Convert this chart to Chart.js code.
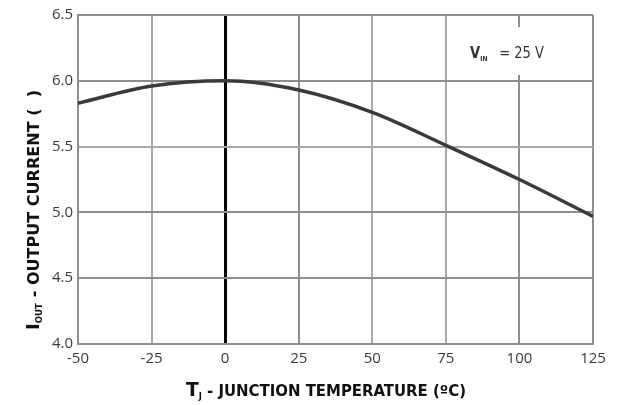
<!DOCTYPE html>
<html>
<head>
<meta charset="utf-8">
<script src="https://cdn.jsdelivr.net/npm/chart.js@4"></script>
<style>
  html, body { margin: 0; padding: 0; background: #fff; }
  #wrap { width: 617px; height: 405px; }
</style>
</head>
<body>
<div id="wrap"><canvas id="chart" width="617" height="405"></canvas></div>
<script>
// temperature (°C) and output current
const temps = [-50, -25, 0, 25, 50, 75, 100, 125];
const current = [5.83, 5.96, 6.0, 5.93, 5.76, 5.51, 5.25, 4.97];
const xTicks = [-50, -25, 0, 25, 50, 75, 100, 125];
const yTicks = [4.0, 4.5, 5.0, 5.5, 6.0, 6.5];

const tickFont = { family: "'Open Sans', sans-serif", size: 15 };
const FAM = "'DejaVu Sans Condensed', sans-serif";

// draw runs of text (with subscripts) squeezed to a given width
function drawRuns(c, runs, x, y, width) {
  let total = 0;
  runs.forEach((r) => {
    c.font = r.font;
    total += c.measureText(r.text).width + (r.gap || 0);
  });
  const k = width / total;
  c.save();
  c.translate(x, y);
  c.scale(k, 1);
  let pos = 0;
  runs.forEach((r) => {
    c.font = r.font;
    c.fillText(r.text, pos, r.dy || 0);
    pos += c.measureText(r.text).width + (r.gap || 0);
  });
  c.restore();
}

const labelsPlugin = {
  id: "labels",
  afterDraw(chart) {
    const c = chart.ctx;
    const area = chart.chartArea;
    const xs = chart.scales.x;
    c.save();
    c.textBaseline = "alphabetic";

    // V_IN note on a white patch
    const bx = xs.getPixelForValue(75) + 2;
    c.fillStyle = "#fff";
    c.fillRect(bx, 27, area.right - bx - 2, 48);
    c.fillStyle = "#333";
    drawRuns(c, [
      { text: "V", font: "bold 15px " + FAM },
      { text: "IN", font: "bold 7px " + FAM, dy: 3, gap: 12 },
      { text: "= 25 V", font: "15px " + FAM }
    ], 470, 58, 74);

    // x title
    c.fillStyle = "#111";
    drawRuns(c, [
      { text: "T", font: "bold 20px " + FAM },
      { text: "J", font: "bold 9px " + FAM, dy: 3, gap: 5 },
      { text: "- JUNCTION TEMPERATURE (ºC)", font: "bold 16px " + FAM }
    ], 186, 396, 280);

    // y title, rotated
    c.translate(39, 330);
    c.rotate(-Math.PI / 2);
    drawRuns(c, [
      { text: "I", font: "bold 17px " + FAM },
      { text: "OUT", font: "bold 8px " + FAM, dy: 3, gap: 5 },
      { text: "- OUTPUT CURRENT (  )", font: "bold 15px " + FAM }
    ], 0, 0, 240);
    c.restore();
  }
};

function gridColor(ctx, zeroDark) {
  const v = ctx.tick ? ctx.tick.value : null;
  if (zeroDark && v === 0) return "#000";
  if (v === 5.5 || v === 75 || v === -25 || v === 50) return "#a8a8a8";
  return "#8e8e8e";
}

new Chart(document.getElementById("chart"), {
  type: "line",
  data: {
    datasets: [{
      data: temps.map((t, i) => ({ x: t, y: current[i] })),
      borderColor: "#3a3a3a",
      borderWidth: 3.5,
      pointRadius: 0,
      cubicInterpolationMode: "monotone",
      fill: false
    }]
  },
  options: {
    responsive: false,
    animation: false,
    layout: { padding: { top: 15, right: 24, left: 0, bottom: 0 } },
    plugins: { legend: { display: false }, tooltip: { enabled: false } },
    scales: {
      x: {
        type: "linear",
        min: -50,
        max: 125,
        afterBuildTicks: (s) => { s.ticks = xTicks.map((v) => ({ value: v })); },
        afterFit: (s) => { s.height = 61; },
        ticks: { color: "#3a3a3a", font: tickFont, padding: 6 },
        grid: {
          drawTicks: false,
          color: (ctx) => gridColor(ctx, true),
          lineWidth: (ctx) => (ctx.tick && ctx.tick.value === 0 ? 3 : 2)
        },
        border: { color: "#8e8e8e", width: 2 }
      },
      y: {
        min: 4,
        max: 6.5,
        afterBuildTicks: (s) => { s.ticks = yTicks.map((v) => ({ value: v })); },
        afterFit: (s) => { s.width = 78; },
        ticks: {
          color: "#3a3a3a",
          font: tickFont,
          padding: 5,
          callback: (v) => v.toFixed(1)
        },
        grid: {
          drawTicks: false,
          color: (ctx) => gridColor(ctx, false),
          lineWidth: 2
        },
        border: { color: "#8e8e8e", width: 2 }
      }
    }
  },
  plugins: [labelsPlugin]
});
</script>
</body>
</html>
